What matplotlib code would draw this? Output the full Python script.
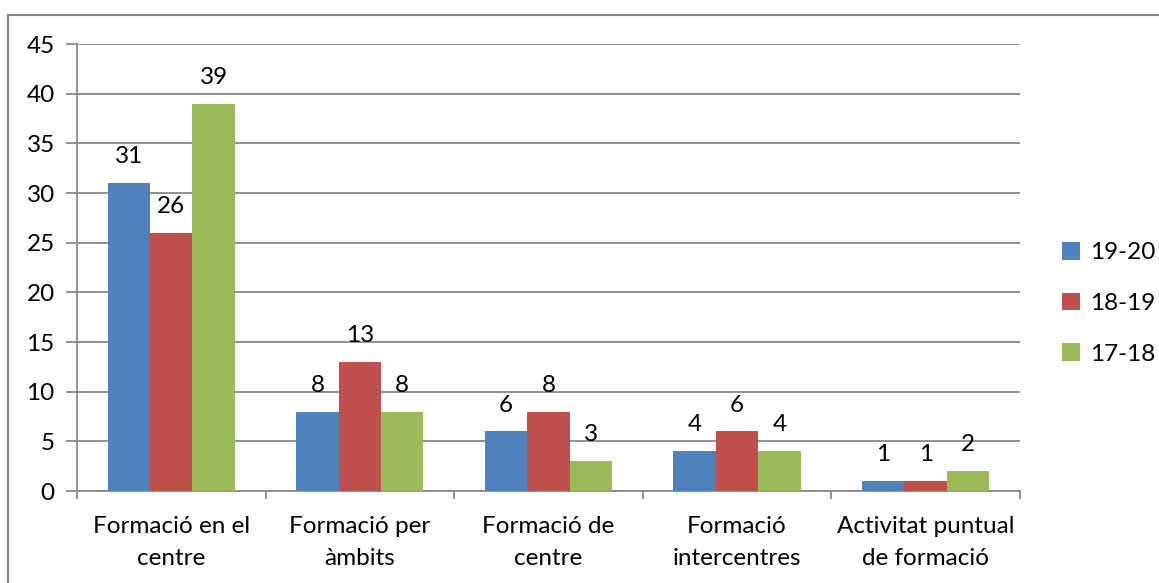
import matplotlib.pyplot as plt
import numpy as np
from matplotlib.lines import Line2D

plt.rcParams['font.family'] = ['Lato', 'DejaVu Sans']

categories = ['Formació en el\ncentre', 'Formació per\nàmbits', 'Formació de\ncentre',
              'Formació\nintercentres', 'Activitat puntual\nde formació']
series = ['19-20', '18-19', '17-18']
v_1920 = [31, 8, 6, 4, 1]
v_1819 = [26, 13, 8, 6, 1]
v_1718 = [39, 8, 3, 4, 2]
colors = ['#4F81BD', '#C0504D', '#9BBB59']

fs = 17.5
fig = plt.figure(figsize=(11.59, 5.83), dpi=100)
ax = fig.add_axes([0.0664, 0.1578, 0.8136, 0.7667])

x = np.arange(len(categories))
w = 0.225
for i, (vals, lab) in enumerate(zip([v_1920, v_1819, v_1718], series)):
    pos = x + (i - 1) * w
    ax.bar(pos, vals, w, color=colors[i], label=lab, zorder=3)
    for p, v in zip(pos, vals):
        ax.text(p, v + 1.6, str(v), ha='center', va='bottom', fontsize=fs)

ax.set_xlim(-0.5, len(categories) - 0.5)
ax.set_ylim(0, 45)
ax.set_yticks(range(0, 46, 5))
ax.grid(axis='y', color='#888888', linewidth=1.3, zorder=0)
for s in ['top', 'right']:
    ax.spines[s].set_visible(False)
for s in ['left', 'bottom']:
    ax.spines[s].set_color('#888888')
    ax.spines[s].set_linewidth(1.3)

ax.set_xticks(x)
ax.set_xticklabels(categories, fontsize=fs, linespacing=1.65)
ax.tick_params(axis='x', length=0, pad=18)
ax.set_xticks(np.arange(-0.5, len(categories)), minor=True)
ax.tick_params(axis='x', which='minor', length=6, color='#888888', width=1.3)
ax.tick_params(axis='y', length=8, color='#888888', width=1.3, labelsize=fs, pad=8)

leg = ax.legend(loc='center left', bbox_to_anchor=(1.0445, 0.42), frameon=False,
                fontsize=fs, handlelength=0.75, handleheight=0.75, labelspacing=1.2,
                handletextpad=0.4, borderpad=0, borderaxespad=0)

# outer chart border (cut off on right and bottom)
fig.add_artist(Line2D([8 / 1159, 8 / 1159], [0, 1 - 15 / 583], color='#888888', lw=1.5))
fig.add_artist(Line2D([8 / 1159, 1], [1 - 15 / 583, 1 - 15 / 583], color='#888888', lw=1.5))

fig.savefig('out.png', dpi=100)
